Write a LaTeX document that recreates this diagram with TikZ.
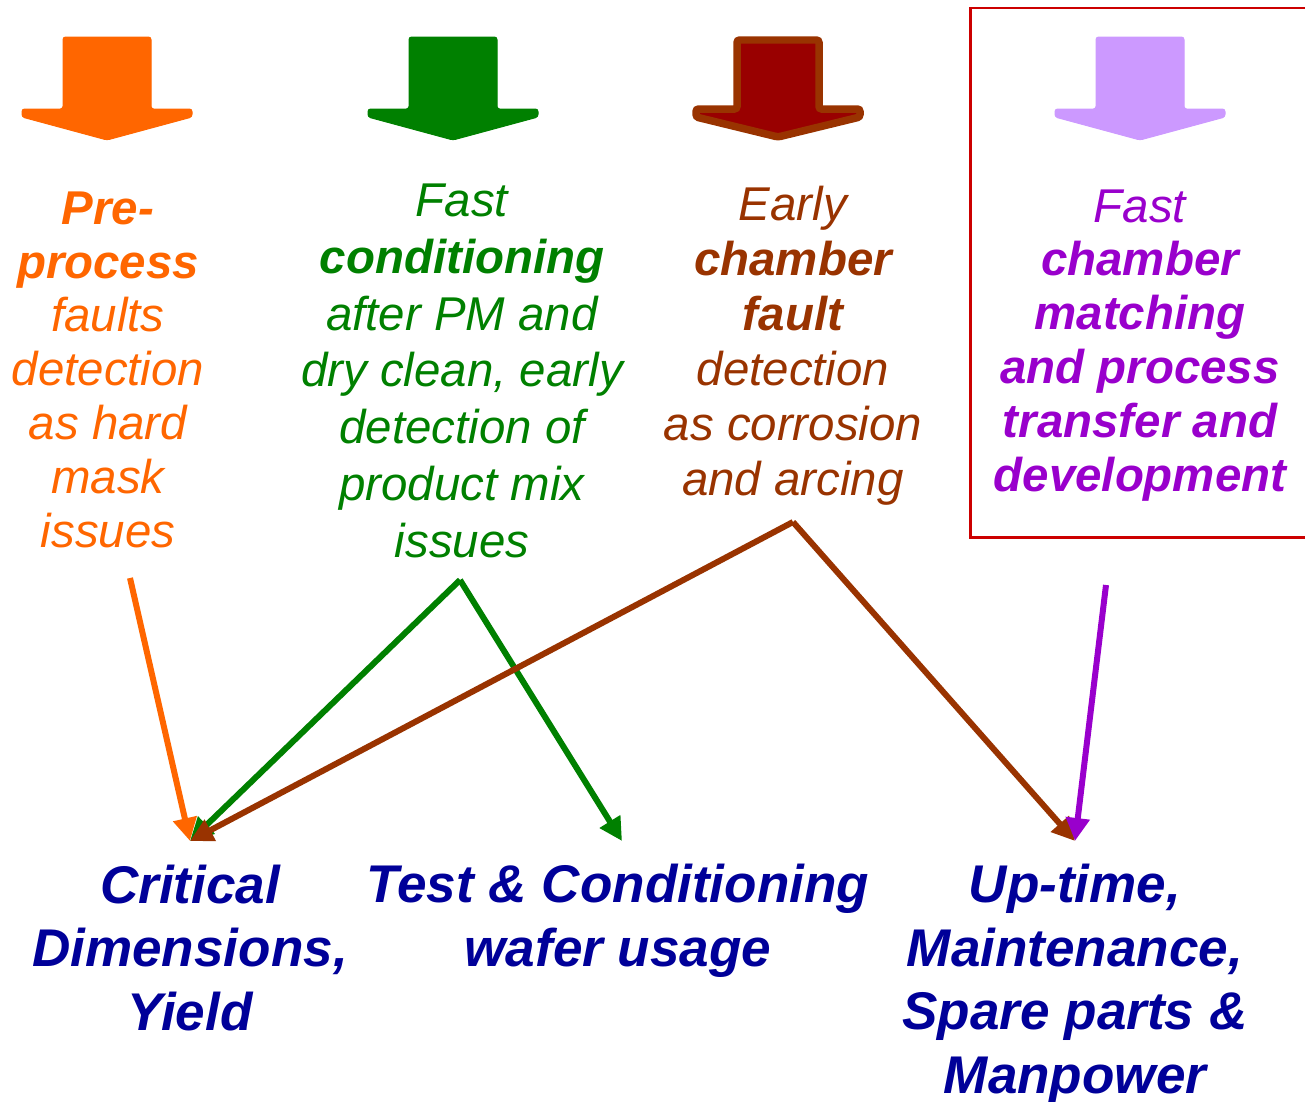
\documentclass[tikz,border=0pt]{standalone}
\usepackage{fontspec}
\setmainfont{Liberation Sans}
\usetikzlibrary{arrows.meta}
\definecolor{preorange}{HTML}{FF6600}
\definecolor{condgreen}{HTML}{008000}
\definecolor{faultbrown}{HTML}{993300}
\definecolor{faultdark}{HTML}{990000}
\definecolor{matchlilac}{HTML}{CC99FF}
\definecolor{matchpurple}{HTML}{9900CC}
\definecolor{effectblue}{HTML}{000099}
\definecolor{boxred}{HTML}{CC0000}
\tikzset{
  cause/.style={align=center,inner sep=0pt,anchor=base,font=\fontsize{27}{#1}\selectfont\itshape},
  effect/.style={align=center,inner sep=0pt,anchor=base,text=effectblue,
    font=\fontsize{30.2}{36.1}\selectfont\bfseries\itshape},
  link/.style={line width=0.12cm,-{Triangle[length=0.46cm,width=0.46cm]}},
}
\begin{document}
\begin{tikzpicture}[x=0.02cm,y=-0.02cm]
\useasboundingbox (0,0) rectangle (1305,1102);
% block arrows on top
\foreach \x/\col/\rim/\w/\d in {107/preorange/preorange/0.02/0,453/condgreen/condgreen/0.02/0,
    778/faultdark/faultbrown/0.15/3,1140/matchlilac/matchlilac/0.02/0}
  \filldraw[fill=\col,draw=\rim,line width=\w cm,rounded corners=1.5pt]
    (\x-44+\d,37+\d) -- (\x+44-\d,37+\d) -- (\x+44-\d,109) -- (\x+85-\d,109) -- (\x+85-\d,117)
    -- (\x,140-\d) -- (\x-85+\d,117) -- (\x-85+\d,109) -- (\x-44+\d,109) -- cycle;
\draw[boxred,line width=0.06cm] (970,8) rectangle (1312,537);
% causes (anchored at the base of the last line)
\node[cause=30.6,text=preorange] (pre) at (108,547)
  {\textbf{Pre-}\\\textbf{process}\\faults\\detection\\as hard\\mask\\issues};
\node[cause=32.3,text=condgreen] (cond) at (462,557)
  {Fast\\\textbf{conditioning}\\after PM and\\dry clean, early\\detection of\\product mix\\issues};
\node[cause=31.3,text=faultbrown] (fault) at (793,495)
  {Early\\\textbf{chamber}\\\textbf{fault}\\detection\\as corrosion\\and arcing};
\node[cause=30.6,text=matchpurple] (match) at (1140,491)
  {Fast\\\textbf{chamber}\\\textbf{matching}\\\textbf{and process}\\\textbf{transfer and}\\\textbf{development}};
% effects
\node[effect] (crit) at (190,1030) {Critical\\Dimensions,\\Yield};
\node[effect] (test) at (618,966) {Test \& Conditioning\\wafer usage};
\node[effect] (uptime) at (1075,1093) {Up-time,\\Maintenance,\\Spare parts \&\\Manpower};
% connectors
\coordinate (preout) at (130,578);
\coordinate (condout) at (460,580);
\coordinate (faultout) at (793,522);
\coordinate (matchout) at (1106,585);
\coordinate (critin) at (190,841);
\coordinate (testin) at (622,841);
\coordinate (uptimein) at (1075,841);
\draw[link,preorange] (preout) -- (critin);
\draw[link,condgreen] (condout) -- (critin);
\draw[link,condgreen] (condout) -- (testin);
\draw[link,faultbrown] (faultout) -- (critin);
\draw[link,faultbrown] (faultout) -- (uptimein);
\draw[link,matchpurple] (matchout) -- (uptimein);
\end{tikzpicture}
\end{document}
